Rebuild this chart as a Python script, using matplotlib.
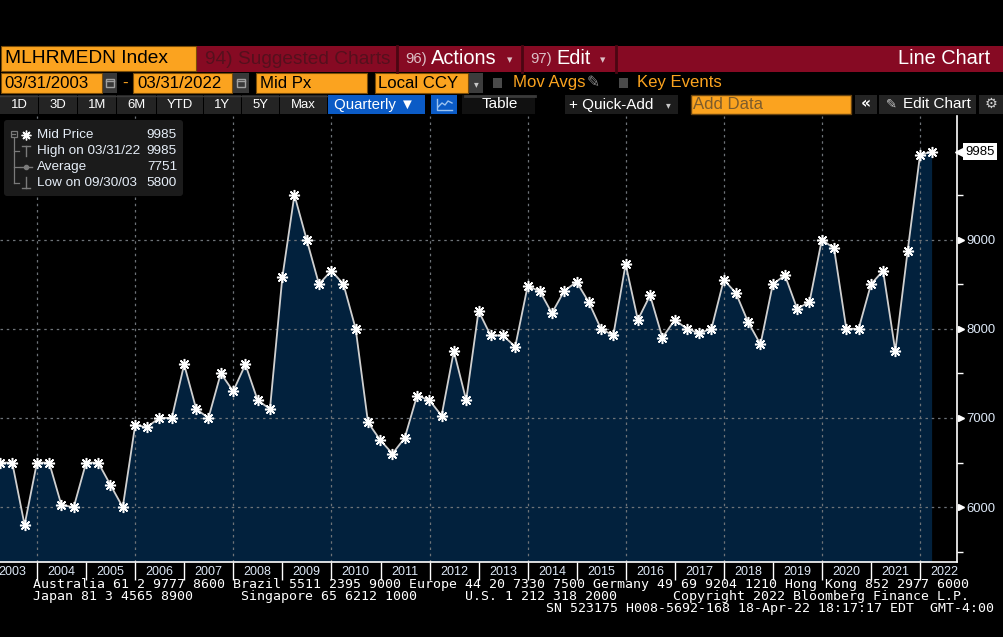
import numpy as np
import pandas as pd
import matplotlib
matplotlib.use('Agg')
from matplotlib import pyplot as plt
from matplotlib import transforms, font_manager
from matplotlib.patches import Rectangle, FancyBboxPatch

# quarterly mid prices, 03/31/2003 .. 03/31/2022
prices = [6500, 6500, 5800, 6500, 6500, 6025, 6000, 6500,
          6500, 6250, 6000, 6917, 6900, 7000, 7000, 7600,
          7100, 7000, 7500, 7300, 7600, 7200, 7100, 8575,
          9500, 9000, 8500, 8650, 8500, 8000, 6950, 6750,
          6600, 6775, 7250, 7200, 7025, 7750, 7200, 8200,
          7925, 7925, 7800, 8475, 8425, 8175, 8425, 8525,
          8300, 8000, 7925, 8725, 8100, 8375, 7900, 8100,
          8000, 7950, 8000, 8550, 8400, 8075, 7825, 8500,
          8600, 8225, 8300, 9000, 8900, 8000, 8000, 8500,
          8650, 7750, 8875, 9950, 9985]
first_quarter = '2003-03-31'
years = list(range(2003, 2023))
grid_years = list(range(2004, 2023, 2))
price_ticks = [6000, 7000, 8000, 9000]
minor_price_ticks = [5500, 6500, 7500, 8500, 9500]

try:
    dates = pd.date_range(first_quarter, periods=len(prices), freq='QE')
except ValueError:
    dates = pd.date_range(first_quarter, periods=len(prices), freq='Q')
prices = np.array(prices, dtype=float)

available = {f.name for f in font_manager.fontManager.ttflist}
if 'Liberation Sans Narrow' in available:
    UI, K = 'Liberation Sans Narrow', 1.0
else:
    UI, K = 'Liberation Sans', 0.86
plt.rcParams['font.family'] = [UI, 'DejaVu Sans']

ORANGE = '#FBA31F'
RED = '#860A23'
NAVY = '#02213D'
BTN = '#242424'
LABEL = '#dde8f6'

W, H = 1004, 637
fig = plt.figure(figsize=(W / 100, H / 100), dpi=100, facecolor='black')

# ---- main chart ----
px_l, px_r, px_t, px_b = 0, 956.7, 116, 561.7
ax = fig.add_axes([px_l / W, 1 - px_b / H, (px_r - px_l) / W, (px_b - px_t) / H])
ax.set_facecolor('black')
ax.fill_between(dates, prices, 0, color=NAVY, lw=0, zorder=1)
ax.plot(dates, prices, color='#d0d0d0', lw=1.3, zorder=3)
ax.plot(dates, prices, ls='none', marker=(8, 2, 0), ms=8, mew=1.1,
        color='white', zorder=4, clip_on=False)

ax.set_xlim(pd.Timestamp('2003-03-31'), pd.Timestamp('2022-09-30'))
ax.set_ylim(5389, 10385)

for y in grid_years:
    ax.axvline(pd.Timestamp(f'{y}-01-01'), color='#6e7378', lw=0.9,
               ls=(0, (2, 3)), zorder=2)
for p in price_ticks:
    ax.axhline(p, color='#6e7378', lw=0.9, ls=(0, (2, 3)), zorder=2)

for s in ['top', 'left']:
    ax.spines[s].set_visible(False)
ax.spines['right'].set_color('white')
ax.spines['bottom'].set_color('white')
ax.spines['right'].set_linewidth(1.2)
ax.spines['bottom'].set_linewidth(1.2)

ax.set_xticks([pd.Timestamp(f'{y}-01-01') for y in years[1:]])
ax.set_xticklabels([])
ax.set_xticks([pd.Timestamp(f'{y}-07-01') for y in years], minor=True)
ax.set_xticklabels([str(y) for y in years], minor=True)
ax.tick_params(axis='x', which='major', length=13, width=1, color='white',
               direction='out')
ax.tick_params(axis='x', which='minor', length=0, pad=3.2,
               labelsize=10.5 * K, labelcolor=LABEL)

ax.yaxis.tick_right()
ax.set_yticks(price_ticks)
ax.set_yticklabels([str(p) for p in price_ticks])
ax.set_yticks(minor_price_ticks, minor=True)
ax.tick_params(axis='y', which='major', length=0, pad=6.8,
               labelsize=11 * K, labelcolor=LABEL)
ax.tick_params(axis='y', which='minor', length=4, width=1, color='white',
               direction='out')

tri = ax.get_yaxis_transform() + transforms.ScaledTranslation(0.045, 0, fig.dpi_scale_trans)
ax.plot([1] * len(price_ticks), price_ticks, ls='none', marker='>', ms=5,
        color='white', transform=tri, clip_on=False)

last = prices[-1]
ax.plot([1], [last], ls='none', marker='<', ms=9, color='white',
        transform=tri, clip_on=False)
tag_txt = ax.get_yaxis_transform() + transforms.ScaledTranslation(0.085, 0, fig.dpi_scale_trans)
ax.text(1, last, f'{last:.0f}', transform=tag_txt, ha='left', va='center',
        fontsize=11 * K, color='black', clip_on=False,
        bbox=dict(boxstyle='square,pad=0.18', fc='white', ec='none'))

# ---- overlay in pixel coordinates for the terminal chrome ----
hdr = fig.add_axes([0, 0, 1, 1], facecolor='none')
hdr.set_xlim(0, W)
hdr.set_ylim(H, 0)
hdr.axis('off')


def box(x0, y0, x1, y1, color, ec='none', lw=0):
    hdr.add_patch(Rectangle((x0, y0), x1 - x0, y1 - y0, fc=color, ec=ec, lw=lw))


def label(x, y, s, size, color, ha='left', **kw):
    hdr.text(x, y, s, fontsize=size * K, color=color, ha=ha, va='center', **kw)


# row 1
box(0.5, 46, 196, 71, ORANGE, ec='#7a4c08', lw=0.8)
label(5, 58.5, 'MLHRMEDN Index', 16, 'black')
box(197, 46, W, 72, RED)
for xs in [397.5, 522.5, 616]:
    hdr.plot([xs, xs], [46, 72], color='#4a0612', lw=2)
label(205, 59, '94) Suggested Charts', 16, '#55101d')
label(405, 59, '96)', 12.5, '#dcc0c6')
label(431, 59, 'Actions', 16.7, 'white')
label(507, 60, '▾', 9, '#dcc0c6')
label(530, 59, '97)', 12.5, '#dcc0c6')
label(556, 59, 'Edit', 16.7, 'white')
label(600, 60, '▾', 9, '#dcc0c6')
label(990, 59, 'Line Chart', 16.7, 'white', ha='right')

# row 2
box(0.5, 73, 102, 93, ORANGE, ec='#7a4c08', lw=0.8)
label(4, 83, '03/31/2003', 14, 'black')
box(103, 73, 117, 93, '#383838')
box(133, 73, 232, 93, ORANGE, ec='#7a4c08', lw=0.8)
label(137, 83, '03/31/2022', 14, 'black')
box(233, 73, 249, 93, '#383838')
for cx in [110, 241]:
    hdr.add_patch(Rectangle((cx - 4, 79), 8, 8, fc='none', ec='#a0a0a0', lw=1))
    hdr.plot([cx - 4, cx + 4], [81, 81], color='#a0a0a0', lw=1)
label(122, 83, '-', 14, ORANGE)
box(256, 73, 367, 93, ORANGE, ec='#7a4c08', lw=0.8)
label(260, 83, 'Mid Px', 14, 'black')
box(375, 73, 468, 93, ORANGE, ec='#7a4c08', lw=0.8)
label(378, 83, 'Local CCY', 14, 'black')
box(469, 73, 483, 93, '#3c3c3c')
label(476, 84, '▾', 8, '#c8c8c8', ha='center')
box(493, 78, 502, 88, '#4a4a4a')
label(513, 83, 'Mov Avgs', 14, ORANGE)
label(587, 83, '✎', 13, '#8a8a8a', family='DejaVu Sans')
box(619, 78, 628, 88, '#4a4a4a')
label(637, 83, 'Key Events', 14, ORANGE)

# row 3
buttons = [(0, 38, '1D'), (39, 77, '3D'), (78, 116, '1M'), (117, 156, '6M'),
           (157, 203, 'YTD'), (204, 241, '1Y'), (242, 279, '5Y'), (280, 327, 'Max')]
for x0, x1, t in buttons:
    box(x0, 95, x1, 114, BTN)
    hdr.plot([x0, x1], [95.5, 95.5], color='#3a3a3a', lw=1)
    label((x0 + x1) / 2, 104.5, t, 11, 'white', ha='center')
box(328, 95, 425, 114, '#0B5BC6')
label(334, 104.5, 'Quarterly ▼', 12.6, 'white')
box(431, 95, 457, 114, '#0B5BC6')
hdr.plot([437, 437, 452], [99, 110, 110], color='#9cc3f0', lw=1)
hdr.plot([438, 442, 445, 448, 452], [107, 103, 105, 101, 103], color='#9cc3f0', lw=1)
box(462, 95, 535, 114, '#111111')
hdr.plot([465, 535], [95.5, 95.5], color='#3a3a3a', lw=2)
label(500, 104.5, 'Table', 12.8, 'white', ha='center')
box(565, 95, 678, 114, '#1c1c1c')
label(569, 104.5, '+ Quick-Add', 12.8, 'white')
label(666, 105, '▾', 8, '#c8c8c8')
box(691, 95, 851, 114, ORANGE, ec='#6a4510', lw=1)
label(693, 104.5, 'Add Data', 14, '#7d5c2c')
box(855, 95, 877, 114, BTN)
label(866, 104, '«', 13, 'white', ha='center', family='DejaVu Sans', weight='bold')
box(879, 95, 976, 114, BTN)
label(886, 104.5, '✎', 11, '#c8c8c8', family='DejaVu Sans')
label(903, 104.5, 'Edit Chart', 12.8, 'white')
box(979, 95, W, 114, BTN)
label(991, 104, '⚙', 12, '#d0d0d0', ha='center', family='DejaVu Sans')

# legend box
hdr.add_patch(FancyBboxPatch((4, 120), 179, 76, boxstyle='round,pad=0,rounding_size=3',
                             fc='#1b1b1b', ec='none'))
hi_i, lo_i = int(np.argmax(prices)), int(np.argmin(prices))
legend_rows = [('Mid Price', prices[-1]),
               (f'High on {dates[hi_i]:%m/%d/%y}', prices[hi_i]),
               ('Average', prices.mean()),
               (f'Low on {dates[lo_i]:%m/%d/%y}', prices[lo_i])]
row_y = [135, 151, 167, 183]
for (t, v), y in zip(legend_rows, row_y):
    label(37, y, t, 11.3, '#e6eef8')
    label(177, y, f'{v:.0f}', 11.3, '#e6eef8', ha='right')
g = '#7a7a7a'
hdr.add_patch(Rectangle((11, 131), 6, 6, fc='none', ec=g, lw=0.9))
hdr.plot([12.5, 15.5], [134, 134], color=g, lw=0.9)
hdr.plot([14, 14], [138, 183], color=g, lw=0.9)
for y in row_y[1:]:
    hdr.plot([14, 19], [y, y], color=g, lw=0.9)
hdr.plot([26], [135], marker=(8, 2, 0), ms=7, mew=1, color='white')
hdr.plot([22, 30], [146, 146], color=g, lw=1)
hdr.plot([26, 26], [146, 156], color=g, lw=1)
hdr.plot([20, 32], [167, 167], color=g, lw=1)
hdr.plot([26], [167], marker='o', ms=3, color=g)
hdr.plot([26, 26], [177, 188], color=g, lw=1)
hdr.plot([22, 30], [188, 188], color=g, lw=1)

# footer
mono = dict(family='DejaVu Sans Mono', fontsize=9.5, color='white', va='center')
footer_lines = [
    (33, 584.5, 'Australia 61 2 9777 8600 Brazil 5511 2395 9000 Europe 44 20 7330 7500 '
                'Germany 49 69 9204 1210 Hong Kong 852 2977 6000'),
    (33, 596.5, 'Japan 81 3 4565 8900      Singapore 65 6212 1000      U.S. 1 212 318 2000'
                '       Copyright 2022 Bloomberg Finance L.P.'),
    (546, 608.5, 'SN 523175 H008-5692-168 18-Apr-22 18:17:17 EDT  GMT-4:00'),
]
for x, y, t in footer_lines:
    hdr.text(x, y, t, **mono)

fig.savefig('out.png', dpi=100, facecolor='black')
